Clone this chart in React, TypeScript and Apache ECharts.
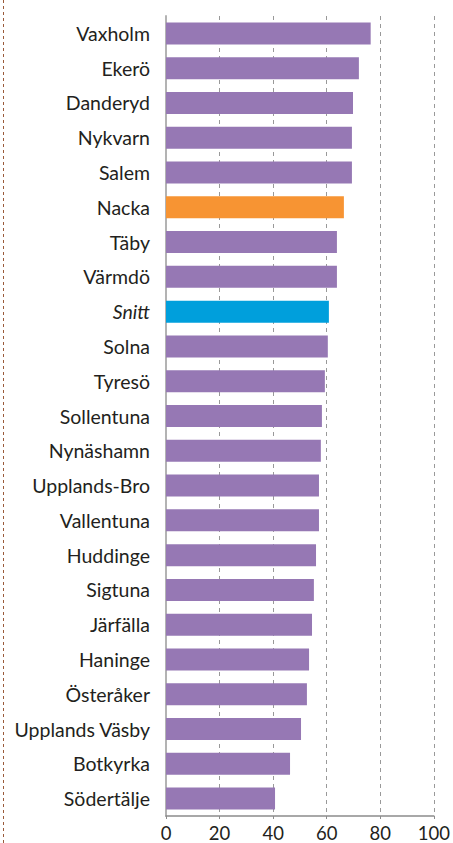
import React, { useEffect, useRef } from "react";
import * as echarts from "echarts";

const categories = [
  "Vaxholm", "Ekerö", "Danderyd", "Nykvarn", "Salem", "Nacka", "Täby", "Värmdö",
  "Snitt", "Solna", "Tyresö", "Sollentuna", "Nynäshamn", "Upplands-Bro", "Vallentuna",
  "Huddinge", "Sigtuna", "Järfälla", "Haninge", "Österåker", "Upplands Väsby",
  "Botkyrka", "Södertälje",
];
const values = [
  76.4, 72.0, 69.8, 69.4, 69.4, 66.4, 63.8, 63.8,
  60.8, 60.4, 59.3, 58.2, 57.8, 57.1, 57.1,
  56.0, 55.2, 54.5, 53.4, 52.6, 50.4,
  46.3, 40.7,
];
const highlightOrange = "Nacka";
const highlightBlue = "Snitt";
const xTicks = [0, 20, 40, 60, 80, 100];

const PURPLE = "#9678b4";
const ORANGE = "#f79433";
const BLUE = "#009fdc";
const FONT = "Lato, 'Open Sans', sans-serif";

export default function App() {
  const ref = useRef<HTMLDivElement>(null);
  useEffect(() => {
    if (!ref.current) return;
    const chart = echarts.init(ref.current, undefined, { renderer: "svg" });
    chart.setOption({
      animation: false,
      backgroundColor: "#ffffff",
      grid: { left: 166, right: 19, top: 16, bottom: 27, containLabel: false },
      xAxis: {
        type: "value",
        min: xTicks[0],
        max: xTicks[xTicks.length - 1],
        interval: 20,
        axisLine: { show: true, lineStyle: { color: "#8c8c8c", width: 1.5 } },
        axisTick: { show: true, length: 3, lineStyle: { color: "#8c8c8c" } },
        axisLabel: { color: "#231f20", fontSize: 18.5, lineHeight: 18, fontFamily: FONT, margin: 8 },
        splitLine: { show: true, lineStyle: { color: "#999999", type: [4, 4], width: 1 } },
      },
      yAxis: {
        type: "category",
        data: categories,
        inverse: true,
        axisLine: { show: true, lineStyle: { color: "#b3b3b3", width: 2 } },
        axisTick: { show: false },
        axisLabel: {
          color: "#231f20",
          fontSize: 19.5,
          fontFamily: FONT,
          margin: 16,
          formatter: (v: string) => (v === highlightBlue ? `{i|${v}}` : v),
          rich: { i: { fontStyle: "italic", fontSize: 19.5, fontFamily: FONT, color: "#231f20" } },
        },
      },
      series: [
        {
          type: "bar",
          barWidth: 22,
          data: values.map((v, i) => ({
            value: v,
            itemStyle: {
              color:
                categories[i] === highlightOrange ? ORANGE : categories[i] === highlightBlue ? BLUE : PURPLE,
            },
          })),
        },
      ],
      graphic: [
        {
          type: "line",
          shape: { x1: 3.5, y1: 0, x2: 3.5, y2: 843 },
          style: { stroke: "#9a5a3a", lineWidth: 1, lineDash: [3, 3] },
        },
      ],
    });
    return () => chart.dispose();
  }, []);
  return <div ref={ref} style={{ width: 453, height: 843, position: "absolute", left: 0, top: 0 }} />;
}
